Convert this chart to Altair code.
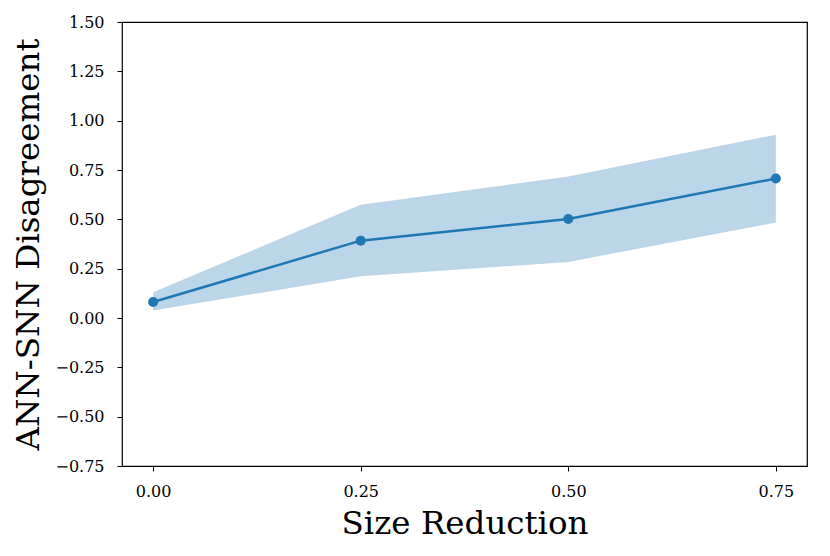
import altair as alt
import pandas as pd

size_reduction = [0.0, 0.25, 0.50, 0.75]
disagreement = [0.081, 0.392, 0.502, 0.707]
band_upper = [0.130, 0.574, 0.717, 0.929]
band_lower = [0.038, 0.211, 0.284, 0.484]

df = pd.DataFrame({
    "x": size_reduction,
    "y": disagreement,
    "hi": band_upper,
    "lo": band_lower,
})

FONT = "DejaVu Serif"
BLUE = "#1f77b4"

xscale = alt.Scale(domain=[-0.0375, 0.7875], nice=False, zero=False)
yscale = alt.Scale(domain=[-0.75, 1.5], nice=False, zero=False)

xaxis = alt.Axis(
    title="Size Reduction", values=[0.0, 0.25, 0.5, 0.75], format=".2f",
    grid=False, domain=False, tickColor="black", tickSize=5, tickWidth=1,
    labelFont=FONT, labelFontSize=16, labelColor="black", labelPadding=12,
    titleFont=FONT, titleFontSize=32.5, titleFontWeight="normal", titleColor="black",
    titlePadding=8, labelFlush=False,
)
yaxis = alt.Axis(
    title="ANN-SNN Disagreement",
    values=[-0.75, -0.5, -0.25, 0.0, 0.25, 0.5, 0.75, 1.0, 1.25, 1.5], format=".2f",
    grid=False, domain=False, tickColor="black", tickSize=5, tickWidth=1,
    labelFont=FONT, labelFontSize=16, labelColor="black", labelPadding=13,
    titleFont=FONT, titleFontSize=32.5, titleFontWeight="normal", titleColor="black",
    titlePadding=9, labelFlush=False,
)

base = alt.Chart(df)

band = base.mark_area(color=BLUE, opacity=0.3).encode(
    x=alt.X("x:Q", scale=xscale, axis=xaxis),
    y=alt.Y("hi:Q", scale=yscale, axis=yaxis),
    y2="lo:Q",
)
line = base.mark_line(color=BLUE, strokeWidth=2.5).encode(
    x=alt.X("x:Q", scale=xscale),
    y=alt.Y("y:Q", scale=yscale),
)
pts = base.mark_point(color=BLUE, filled=True, opacity=1, size=100).encode(
    x=alt.X("x:Q", scale=xscale),
    y=alt.Y("y:Q", scale=yscale),
)

chart = alt.layer(band, line, pts).properties(
    width=685, height=444,
    autosize=alt.AutoSizeParams(type="none"),
    padding={"left": 114, "top": 14, "right": 10, "bottom": 82},
    background="white",
).configure_view(stroke="black", strokeWidth=1.2)

chart.save("out.html", embed_options={"renderer": "svg", "actions": False})
